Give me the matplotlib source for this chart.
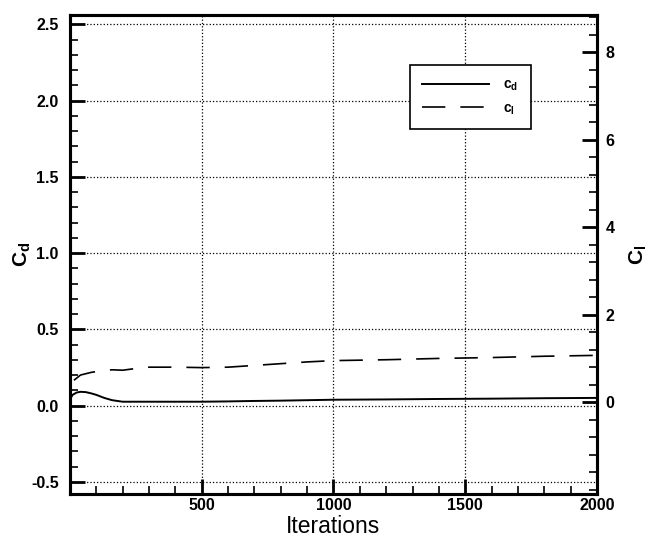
import matplotlib.pyplot as plt
import numpy as np

plt.rcParams['font.family'] = ['Liberation Sans', 'DejaVu Sans']

# drag coefficient history
iters_cd = [0, 10, 25, 40, 60, 80, 100, 130, 160, 200, 300, 400, 500, 600, 700, 800,
            900, 1000, 1200, 1400, 1600, 1800, 2000]
cd = [0.04, 0.07, 0.085, 0.09, 0.088, 0.08, 0.07, 0.05, 0.035, 0.025, 0.025, 0.025, 0.025,
      0.027, 0.03, 0.032, 0.035, 0.038, 0.04, 0.043, 0.045, 0.048, 0.05]

# lift coefficient history
iters_cl = [15, 40, 80, 120, 160, 200, 250, 300, 400, 500, 600, 700, 800, 900, 1000,
            1200, 1400, 1600, 1800, 2000]
cl = [0.5, 0.62, 0.68, 0.72, 0.74, 0.73, 0.77, 0.8, 0.8, 0.79, 0.8, 0.84, 0.88, 0.92,
      0.95, 0.97, 1.0, 1.02, 1.05, 1.07]

fig = plt.figure(figsize=(6.6, 5.44), dpi=100)
ax = fig.add_axes([0.106, 0.092, 0.7985, 0.880])
ax2 = ax.twinx()

l1, = ax.plot(iters_cd, cd, color='black', lw=1.4, label='c$_\\mathregular{d}$')
l2, = ax2.plot(iters_cl, cl, color='black', lw=1.2, dashes=(14, 9), label='c$_\\mathregular{l}$')

ax.set_xlim(0, 2000)
ax.set_ylim(-0.58, 2.56)
ax2.set_ylim(-2.1, 8.85)

ax.set_xticks([500, 1000, 1500, 2000])
ax.set_xticks(np.arange(100, 2000, 100), minor=True)
ax.set_yticks([-0.5, 0.0, 0.5, 1.0, 1.5, 2.0, 2.5])
ax.set_yticks(np.arange(-0.5, 2.56, 0.1), minor=True)
ax2.set_yticks([0, 2, 4, 6, 8])
ax2.set_yticks(np.arange(-2.0, 8.81, 0.4), minor=True)

ax.grid(True, which='major', linestyle=':', color='black', lw=0.9)

for a in (ax, ax2):
    for s in a.spines.values():
        s.set_linewidth(2.2)
ax.tick_params(which='both', direction='in', width=2, labelsize=11.5)
ax.tick_params(which='major', length=11)
ax.tick_params(which='minor', length=6, width=1.2)
ax.tick_params(axis='x', which='major', pad=3)
ax.tick_params(axis='y', which='major', pad=8)
ax2.tick_params(which='both', direction='in', width=2, labelsize=11.5)
ax2.tick_params(which='major', length=11, pad=6)
ax2.tick_params(which='minor', length=6, width=1.2)

for lab in ax.get_xticklabels() + ax.get_yticklabels() + ax2.get_yticklabels():
    lab.set_fontweight('bold')
ax.set_yticklabels(['-0.5', '0.0', '0.5', '1.0', '1.5', '2.0', '2.5'], fontweight='bold')

ax.set_xlabel('Iterations', fontsize=16.5)
ax.xaxis.set_label_coords(0.5, -0.045)
ax.set_ylabel('C$_\\mathregular{d}$', fontsize=15, fontweight='bold')
ax.yaxis.set_label_coords(-0.07, 0.5)
ax2.set_ylabel('C$_\\mathregular{l}$', fontsize=15, fontweight='bold')
ax2.yaxis.set_label_coords(1.057, 0.5)

leg = ax.legend(handles=[l1, l2], loc='upper left', bbox_to_anchor=(0.645, 0.896),
                borderaxespad=0, fancybox=False, framealpha=1, edgecolor='black',
                fontsize=10, handlelength=4.8, borderpad=0.9, labelspacing=0.6,
                handletextpad=1.0)
leg.get_frame().set_linewidth(1.2)
for t in leg.get_texts():
    t.set_fontweight('bold')

fig.savefig('out.png', dpi=100)
